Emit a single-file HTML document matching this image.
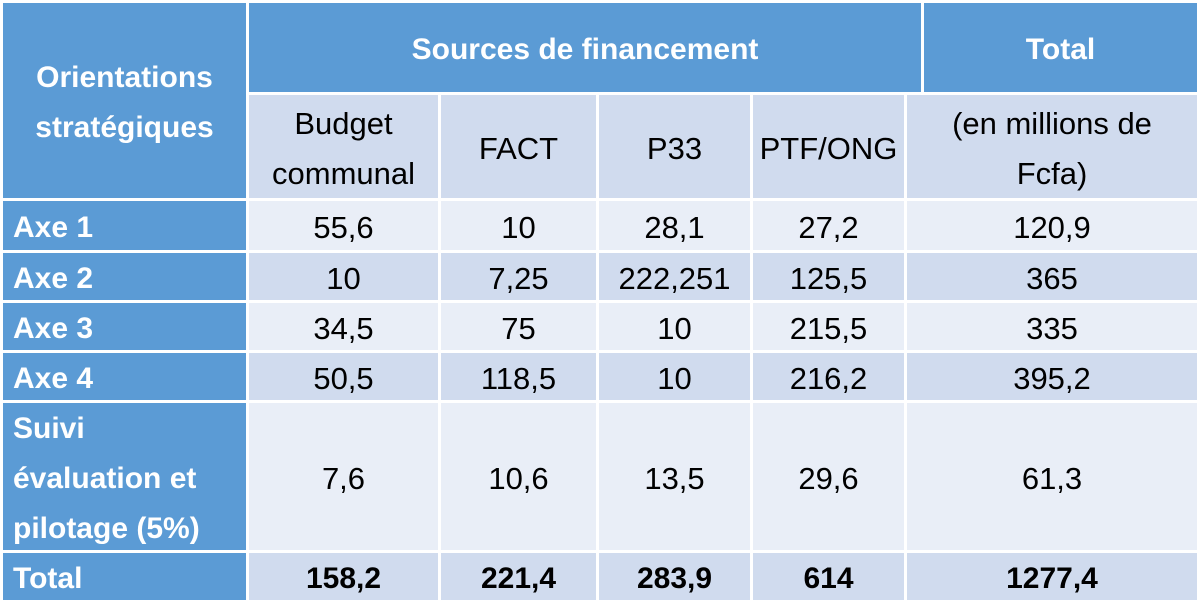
<!DOCTYPE html>
<html><head><meta charset="utf-8"><style>
body{margin:0;width:1202px;height:606px;background:#fff;position:relative;overflow:hidden;font-family:"Liberation Sans",sans-serif;}
.c{position:absolute;display:flex;align-items:center;justify-content:center;text-align:center;font-size:31px;color:#000;line-height:50px;box-sizing:border-box;white-space:nowrap;padding-top:4px;}
.h{background:#5b9bd5;color:#fff;font-weight:bold;font-size:30px;}
.l{background:#5b9bd5;color:#fff;font-weight:bold;font-size:30px;justify-content:flex-start;text-align:left;padding-left:10px;}
.a{background:#e9eef7;}
.b{background:#d0dbee;}
.t{font-weight:bold;font-size:30px;}
</style></head><body>
<div class="c h" style="left:3px;top:3px;width:243px;height:195px;line-height:50px">Orientations<br>stratégiques</div>
<div class="c h" style="left:249px;top:3px;width:672px;height:89px">Sources de financement</div>
<div class="c h" style="left:924px;top:3px;width:273px;height:89px">Total</div>
<div class="c b" style="left:249px;top:95px;width:189px;height:103px">Budget<br>communal</div>
<div class="c b" style="left:441px;top:95px;width:155px;height:103px">FACT</div>
<div class="c b" style="left:599px;top:95px;width:151px;height:103px">P33</div>
<div class="c b" style="left:753px;top:95px;width:151px;height:103px">PTF/ONG</div>
<div class="c b" style="left:907px;top:95px;width:290px;height:103px">(en millions de<br>Fcfa)</div>

<div class="c l" style="left:3px;top:201px;width:243px;height:49px">Axe 1</div>
<div class="c a" style="left:249px;top:201px;width:189px;height:49px">55,6</div>
<div class="c a" style="left:441px;top:201px;width:155px;height:49px">10</div>
<div class="c a" style="left:599px;top:201px;width:151px;height:49px">28,1</div>
<div class="c a" style="left:753px;top:201px;width:151px;height:49px">27,2</div>
<div class="c a" style="left:907px;top:201px;width:290px;height:49px">120,9</div>

<div class="c l" style="left:3px;top:253px;width:243px;height:47px">Axe 2</div>
<div class="c b" style="left:249px;top:253px;width:189px;height:47px">10</div>
<div class="c b" style="left:441px;top:253px;width:155px;height:47px">7,25</div>
<div class="c b" style="left:599px;top:253px;width:151px;height:47px">222,251</div>
<div class="c b" style="left:753px;top:253px;width:151px;height:47px">125,5</div>
<div class="c b" style="left:907px;top:253px;width:290px;height:47px">365</div>

<div class="c l" style="left:3px;top:303px;width:243px;height:47px">Axe 3</div>
<div class="c a" style="left:249px;top:303px;width:189px;height:47px">34,5</div>
<div class="c a" style="left:441px;top:303px;width:155px;height:47px">75</div>
<div class="c a" style="left:599px;top:303px;width:151px;height:47px">10</div>
<div class="c a" style="left:753px;top:303px;width:151px;height:47px">215,5</div>
<div class="c a" style="left:907px;top:303px;width:290px;height:47px">335</div>

<div class="c l" style="left:3px;top:353px;width:243px;height:47px">Axe 4</div>
<div class="c b" style="left:249px;top:353px;width:189px;height:47px">50,5</div>
<div class="c b" style="left:441px;top:353px;width:155px;height:47px">118,5</div>
<div class="c b" style="left:599px;top:353px;width:151px;height:47px">10</div>
<div class="c b" style="left:753px;top:353px;width:151px;height:47px">216,2</div>
<div class="c b" style="left:907px;top:353px;width:290px;height:47px">395,2</div>

<div class="c l" style="left:3px;top:403px;width:243px;height:147px">Suivi<br>évaluation et<br>pilotage (5%)</div>
<div class="c a" style="left:249px;top:403px;width:189px;height:147px">7,6</div>
<div class="c a" style="left:441px;top:403px;width:155px;height:147px">10,6</div>
<div class="c a" style="left:599px;top:403px;width:151px;height:147px">13,5</div>
<div class="c a" style="left:753px;top:403px;width:151px;height:147px">29,6</div>
<div class="c a" style="left:907px;top:403px;width:290px;height:147px">61,3</div>

<div class="c l" style="left:3px;top:553px;width:243px;height:47px">Total</div>
<div class="c b t" style="left:249px;top:553px;width:189px;height:47px">158,2</div>
<div class="c b t" style="left:441px;top:553px;width:155px;height:47px">221,4</div>
<div class="c b t" style="left:599px;top:553px;width:151px;height:47px">283,9</div>
<div class="c b t" style="left:753px;top:553px;width:151px;height:47px">614</div>
<div class="c b t" style="left:907px;top:553px;width:290px;height:47px">1277,4</div>
</body></html>
